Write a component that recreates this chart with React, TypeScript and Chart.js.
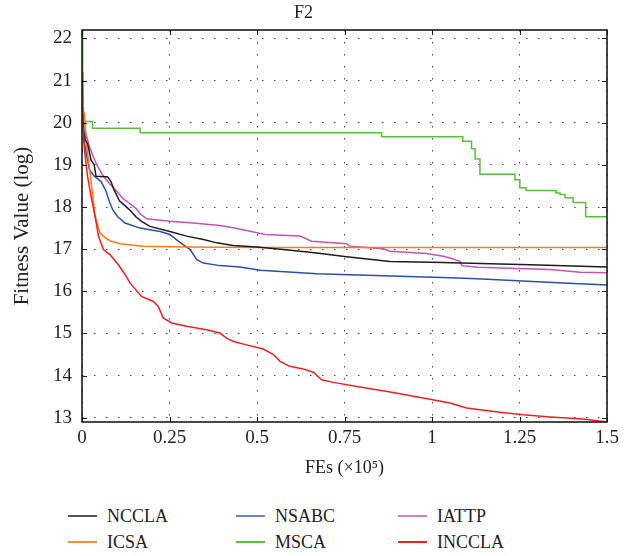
import React, { useEffect, useRef } from "react";
import { Chart, registerables } from "chart.js";

Chart.register(...registerables);

const FONT = '"Liberation Serif", "Times New Roman", serif';

// ---- axis ticks ----
const xTickValues = [0, 0.25, 0.5, 0.75, 1, 1.25, 1.5];
const xTickLabels = ["0", "0.25", "0.5", "0.75", "1", "1.25", "1.5"];
const yTickValues = [13, 14, 15, 16, 17, 18, 19, 20, 21, 22];
const yTickLabels = ["13", "14", "15", "16", "17", "18", "19", "20", "21", "22"];

// ---- series (x in ×10^5 FEs, y = log fitness) ----
const ncclaX = [0, 0.004, 0.009, 0.016, 0.026, 0.035, 0.04, 0.064, 0.073, 0.083, 0.092, 0.107, 0.126, 0.14, 0.154, 0.17, 0.194, 0.251, 0.299, 0.347, 0.385, 0.432, 0.499, 0.575, 0.671, 0.756, 0.88, 1.0, 1.28, 1.5];
const ncclaY = [20.4, 19.85, 19.6, 19.5, 19.11, 19.0, 18.73, 18.72, 18.72, 18.6, 18.4, 18.15, 18.01, 17.9, 17.77, 17.66, 17.54, 17.42, 17.31, 17.23, 17.15, 17.09, 17.05, 16.99, 16.91, 16.82, 16.71, 16.69, 16.63, 16.58];

const icsaX = [0, 0.007, 0.011, 0.021, 0.03, 0.037, 0.051, 0.065, 0.08, 0.109, 0.175, 0.3, 0.509, 1.5];
const icsaY = [20.4, 20.2, 19.6, 18.96, 18.33, 17.8, 17.39, 17.28, 17.2, 17.13, 17.07, 17.05, 17.04, 17.04];

const nsabcX = [0, 0.007, 0.016, 0.021, 0.035, 0.054, 0.061, 0.069, 0.078, 0.088, 0.102, 0.123, 0.166, 0.223, 0.251, 0.275, 0.309, 0.328, 0.347, 0.394, 0.451, 0.509, 0.671, 0.861, 1.051, 1.128, 1.375, 1.5];
const nsabcY = [20.2, 19.51, 19.12, 18.89, 18.73, 18.61, 18.5, 18.37, 18.13, 17.93, 17.77, 17.62, 17.5, 17.42, 17.35, 17.19, 16.99, 16.75, 16.67, 16.61, 16.58, 16.5, 16.42, 16.37, 16.32, 16.3, 16.2, 16.15];

const mscaX = [0, 0.002, 0.03, 0.166, 0.856, 1.088, 1.113, 1.123, 1.137, 1.237, 1.251, 1.269, 1.354, 1.366, 1.38, 1.403, 1.439, 1.5];
const mscaY = [22.2, 20.03, 19.87, 19.76, 19.67, 19.56, 19.38, 19.14, 18.78, 18.65, 18.46, 18.39, 18.33, 18.3, 18.22, 18.11, 17.77, 17.77];

const iattpX = [0, 0.004, 0.011, 0.021, 0.03, 0.04, 0.059, 0.078, 0.097, 0.116, 0.135, 0.154, 0.166, 0.185, 0.251, 0.318, 0.394, 0.432, 0.494, 0.523, 0.623, 0.656, 0.756, 0.766, 0.861, 0.88, 0.985, 1.032, 1.051, 1.08, 1.085, 1.132, 1.337, 1.423, 1.5];
const iattpY = [21.0, 20.2, 19.75, 19.44, 19.24, 19.04, 18.76, 18.56, 18.4, 18.21, 18.09, 17.97, 17.84, 17.72, 17.66, 17.62, 17.56, 17.51, 17.4, 17.35, 17.31, 17.19, 17.13, 17.07, 17.01, 16.95, 16.9, 16.83, 16.79, 16.71, 16.61, 16.57, 16.52, 16.45, 16.44];

const incclaX = [0, 0.002, 0.007, 0.016, 0.026, 0.038, 0.047, 0.061, 0.08, 0.104, 0.123, 0.137, 0.17, 0.204, 0.218, 0.232, 0.256, 0.299, 0.356, 0.394, 0.413, 0.433, 0.47, 0.518, 0.547, 0.566, 0.594, 0.632, 0.661, 0.685, 0.718, 0.794, 0.889, 0.994, 1.051, 1.099, 1.194, 1.261, 1.337, 1.432, 1.5];
const incclaY = [21.2, 20.0, 19.35, 18.72, 18.25, 17.75, 17.31, 16.99, 16.87, 16.63, 16.4, 16.2, 15.88, 15.76, 15.64, 15.37, 15.25, 15.17, 15.09, 15.01, 14.89, 14.81, 14.73, 14.63, 14.5, 14.34, 14.22, 14.16, 14.08, 13.9, 13.84, 13.73, 13.6, 13.44, 13.35, 13.23, 13.13, 13.07, 13.02, 12.97, 12.9];

// legend order (column-major: NCCLA/ICSA, NSABC/MSCA, IATTP/INCCLA)
const seriesNames = ["NCCLA", "ICSA", "NSABC", "MSCA", "IATTP", "INCCLA"];
const seriesColors = ["#1c1c1c", "#ff7a12", "#2d4fa6", "#5cbd3c", "#c453b4", "#ee1f26"];
const legendColors = ["#555555", "#ff8a3a", "#6a84c2", "#5cc43a", "#d67fc4", "#ee1f26"];
const seriesX = [ncclaX, icsaX, nsabcX, mscaX, iattpX, incclaX];
const seriesY = [ncclaY, icsaY, nsabcY, mscaY, iattpY, incclaY];
const seriesStepped = [false, false, false, true, false, false];

const xMin = 0, xMax = 1.5, yMin = 12.9, yMax = 22.2;

const framePlugin = {
  id: "frame",
  afterDraw(chart: any) {
    const { ctx, chartArea: a, scales } = chart;
    ctx.save();
    ctx.strokeStyle = "#1a1a1a";
    ctx.lineWidth = 1;
    const L = 5;
    ctx.beginPath();
    xTickValues.forEach((v) => {
      const p = Math.round(scales.x.getPixelForValue(v)) + 0.5;
      ctx.moveTo(p, a.bottom);
      ctx.lineTo(p, a.bottom - L);
      ctx.moveTo(p, a.top);
      ctx.lineTo(p, a.top + L);
    });
    yTickValues.forEach((v) => {
      const p = Math.round(scales.y.getPixelForValue(v)) + 0.5;
      ctx.moveTo(a.left, p);
      ctx.lineTo(a.left + L, p);
      ctx.moveTo(a.right, p);
      ctx.lineTo(a.right - L, p);
    });
    ctx.stroke();
    ctx.lineWidth = 1.6;
    ctx.strokeRect(a.left, a.top, a.right - a.left, a.bottom - a.top);
    ctx.restore();
  },
};

export default function App() {
  const ref = useRef<HTMLCanvasElement | null>(null);

  useEffect(() => {
    if (!ref.current) return;
    const datasets = seriesNames.map((name, i) => ({
      label: name,
      data: seriesX[i].map((x, j) => ({ x, y: seriesY[i][j] })),
      borderColor: seriesColors[i],
      backgroundColor: seriesColors[i],
      borderWidth: 1.5,
      pointRadius: 0,
      tension: 0,
      stepped: seriesStepped[i] ? ("before" as const) : false,
      fill: false,
      order: name === "INCCLA" ? 0 : 1,
    }));
    const chart = new Chart(ref.current, {
      type: "line",
      data: { datasets },
      options: {
        animation: false,
        responsive: false,
        layout: { padding: { left: 0, right: 25, top: 0, bottom: 0 } },
        plugins: {
          legend: { display: false },
          tooltip: { enabled: false },
          title: {
            display: true,
            text: "F2",
            color: "#222",
            font: { family: FONT, size: 18, weight: "normal" },
            padding: { top: 2, bottom: 6.4 },
          },
        },
        scales: {
          x: {
            type: "linear",
            min: xMin,
            max: xMax,
            afterBuildTicks: (s: any) => {
              s.ticks = xTickValues.map((v) => ({ value: v }));
            },
            afterFit: (s: any) => {
              s.height = 68;
            },
            ticks: {
              color: "#222",
              font: { family: FONT, size: 19 },
              padding: 5,
              maxRotation: 0,
              autoSkip: false,
              callback: (v: any) => {
                const i = xTickValues.indexOf(Number(v));
                return i >= 0 ? xTickLabels[i] : "";
              },
            },
            grid: { color: "#444", lineWidth: 1, drawTicks: false },
            border: { display: false, dash: [1.5, 10.5] },
            title: {
              display: true,
              text: "FEs (×10⁵)",
              color: "#222",
              font: { family: FONT, size: 18 },
              padding: { top: 0, bottom: 10.5 },
            },
          },
          y: {
            type: "linear",
            min: yMin,
            max: yMax,
            afterBuildTicks: (s: any) => {
              s.ticks = yTickValues.map((v) => ({ value: v }));
            },
            afterFit: (s: any) => {
              s.width = 82;
            },
            ticks: {
              color: "#222",
              font: { family: FONT, size: 19 },
              padding: 10,
              autoSkip: false,
              callback: (v: any) => {
                const i = yTickValues.indexOf(Number(v));
                return i >= 0 ? yTickLabels[i] : "";
              },
            },
            grid: { color: "#444", lineWidth: 1, drawTicks: false },
            border: { display: false, dash: [1.5, 10.5] },
            title: {
              display: true,
              text: "Fitness Value (log)",
              color: "#222",
              font: { family: FONT, size: 21 },
              padding: { top: 10, bottom: 0 },
            },
          },
        },
      },
      plugins: [framePlugin],
    });
    return () => chart.destroy();
  }, []);

  const colLine = [68, 236, 398];
  const colText = [107, 275, 437];
  const rowY = [516, 542];

  return (
    <div style={{ position: "absolute", left: 0, top: 0, width: 632, height: 556, background: "#fff" }}>
      <canvas ref={ref} width={632} height={490} style={{ display: "block", width: 632, height: 490 }} />
      {seriesNames.map((name, i) => {
        const col = Math.floor(i / 2);
        const row = i % 2;
        return (
          <React.Fragment key={name}>
            <div
              style={{
                position: "absolute",
                left: colLine[col],
                top: rowY[row] - 1,
                width: 29,
                height: 2,
                background: legendColors[i],
              }}
            />
            <div
              style={{
                position: "absolute",
                left: colText[col],
                top: rowY[row] - 11,
                height: 22,
                lineHeight: "22px",
                fontFamily: FONT,
                fontSize: 18,
                color: "#222",
                whiteSpace: "nowrap",
              }}
            >
              {name}
            </div>
          </React.Fragment>
        );
      })}
    </div>
  );
}
